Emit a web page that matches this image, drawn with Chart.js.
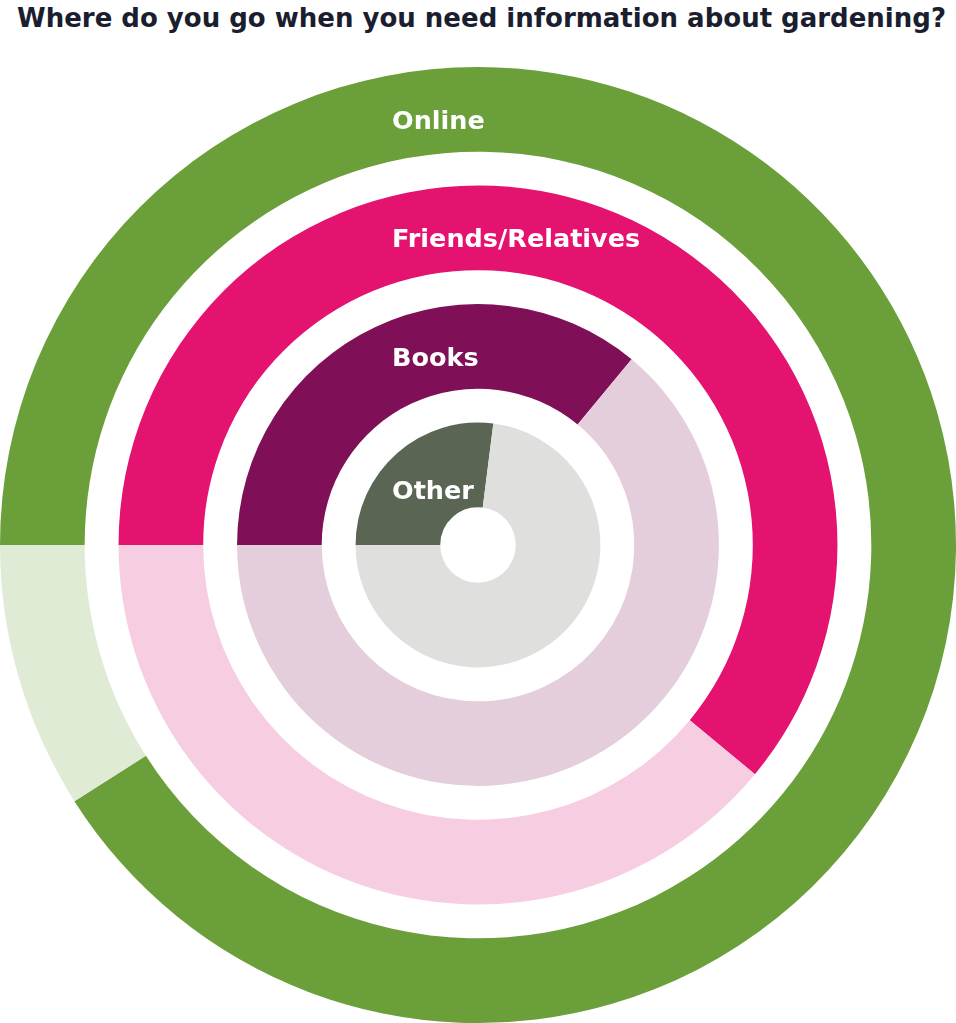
<!DOCTYPE html>
<html>
<head>
<meta charset="utf-8">
<script src="https://cdn.jsdelivr.net/npm/chart.js@4"></script>
<style>
  body { margin: 0; background: #fff; }
  h1 {
    position: absolute; left: 17px; top: -2px; margin: 0;
    font-family: "DejaVu Sans", sans-serif; font-weight: 700; font-size: 26px;
    color: #1a1e2e; line-height: 40px; white-space: nowrap;
  }
  .wrap { position: absolute; left: 0; top: 67px; width: 956px; height: 956px; }
</style>
</head>
<body>
<h1>Where do you go when you need information about gardening?</h1>
<div class="wrap"><canvas id="gardenChart"></canvas></div>
<script>
// Share of respondents per source, outer ring to inner ring
const sources = ['Online', 'Friends/Relatives', 'Books', 'Other'];
const shares = [91, 61, 36, 27];
const mainColors = ['#6a9f3a', '#e3136f', '#7f0f56', '#5b6553'];
const restColors = ['#e0ebd5', '#f7cde1', '#e5cedb', '#dfe0dd'];

// each ring is [share, rest]; thin white spacer rings go between them
const datasets = [];
sources.forEach((name, i) => {
    if (i > 0) {
        datasets.push({ label: 'gap', data: [100], backgroundColor: ['rgba(0,0,0,0)'], weight: 0.4, spacer: true });
    }
    datasets.push({
        label: name,
        data: [shares[i], 100 - shares[i]],
        backgroundColor: [mainColors[i], restColors[i]],
        weight: 1
    });
});

// draws the source name in white near the top of each ring
const ringLabels = {
    id: 'ringLabels',
    afterDatasetsDraw(chart) {
        const ctx = chart.ctx;
        ctx.save();
        ctx.fillStyle = '#ffffff';
        ctx.font = '700 25.5px "DejaVu Sans", sans-serif';
        ctx.textAlign = 'left';
        ctx.textBaseline = 'middle';
        chart.data.datasets.forEach((ds, di) => {
            if (ds.spacer) return;
            const arc = chart.getDatasetMeta(di).data[0];
            const mid = (arc.innerRadius + arc.outerRadius) / 2;
            const extra = ds.label === 'Other' ? 27 : 13;
            ctx.fillText(ds.label, arc.x - 86, arc.y - mid + extra);
        });
        ctx.restore();
    }
};

new Chart(document.getElementById('gardenChart').getContext('2d'), {
    type: 'doughnut',
    data: { labels: ['Yes', 'No'], datasets: datasets },
    options: {
        responsive: true,
        maintainAspectRatio: false,
        animation: false,
        rotation: -90,
        cutout: '7.9%',
        borderWidth: 0,
        spacing: 0,
        layout: { padding: 0 },
        plugins: {
            legend: { display: false },
            tooltip: { enabled: false }
        }
    },
    plugins: [ringLabels]
});
</script>
</body>
</html>
